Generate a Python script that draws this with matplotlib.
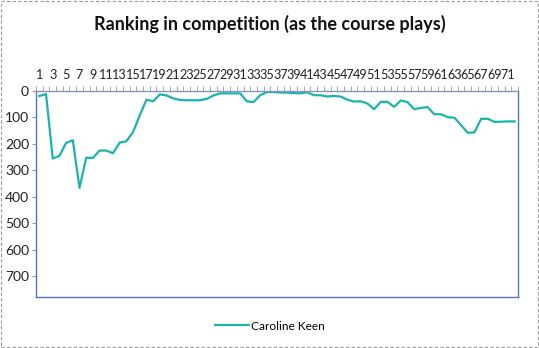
import matplotlib
matplotlib.use("Agg")
import matplotlib.pyplot as plt
from matplotlib.patches import Rectangle
from matplotlib.ticker import FixedLocator

TITLE = "Ranking in competition (as the course plays)"
SERIES_NAME = "Caroline Keen"

# ranking after each hole / round (1..72)
holes = list(range(1, 73))
ranking = [
    19, 12, 255, 245, 196, 186, 366, 252, 253, 225,
    225, 235, 195, 190, 155, 92, 33, 39, 13, 17,
    28, 34, 35, 35, 35, 30, 17, 9, 9, 9,
    9, 39, 42, 16, 4, 4, 6, 6, 8, 9,
    5, 16, 16, 21, 19, 21, 33, 40, 39, 47,
    69, 41, 41, 60, 36, 42, 69, 64, 61, 88,
    88, 99, 101, 129, 158, 156, 105, 105, 117, 116,
    115, 115,
]
y_ticks = [0, 100, 200, 300, 400, 500, 600, 700]
y_max = 778

plt.rcParams["font.family"] = ["Lato", "DejaVu Sans"]

fig = plt.figure(figsize=(5.39, 3.48), dpi=100)
ax = fig.add_axes([0.0668, 0.1466, 0.8942, 0.592])

ax.plot(holes, ranking, color="#1BB3AC", linewidth=1.6, label=SERIES_NAME)

ax.set_xlim(0.5, len(holes) + 0.5)
ax.set_ylim(y_max, 0)

# x axis on top, labels on odd categories, tick marks between categories
ax.xaxis.tick_top()
ax.set_xticks(holes[::2])
ax.set_xticklabels([str(h) for h in holes[::2]], fontsize=9.1, color="#222222")
ax.xaxis.set_minor_locator(FixedLocator([h + 0.5 for h in [0] + holes]))
ax.tick_params(axis="x", which="major", length=0, pad=7)
ax.tick_params(axis="x", which="minor", length=3.5, color="#999999", top=True, bottom=False)

ax.set_yticks(y_ticks)
ax.set_yticklabels([str(v) for v in y_ticks], fontsize=10, color="#222222")
ax.tick_params(axis="y", length=3, color="#999999", pad=2)

for side in ["left", "right", "bottom"]:
    ax.spines[side].set_color("#4F74C8")
    ax.spines[side].set_linewidth(1.0)
ax.spines["top"].set_color("#8894B8")
ax.spines["top"].set_linewidth(1.0)

fig.text(0.5, 0.93, TITLE, ha="center", va="center", fontsize=13, fontweight="bold", color="#111111")

leg = fig.legend(loc="center", bbox_to_anchor=(0.5, 0.063), frameon=False, fontsize=8.6,
                 handlelength=2.9, handletextpad=0.1)

# dashed outer chart border
fig.patches.append(Rectangle((0.002, 0.003), 0.996, 0.994, transform=fig.transFigure,
                             fill=False, edgecolor="#999999", linestyle=(0, (3, 2)), linewidth=0.8))

fig.savefig("out.png", dpi=100)
